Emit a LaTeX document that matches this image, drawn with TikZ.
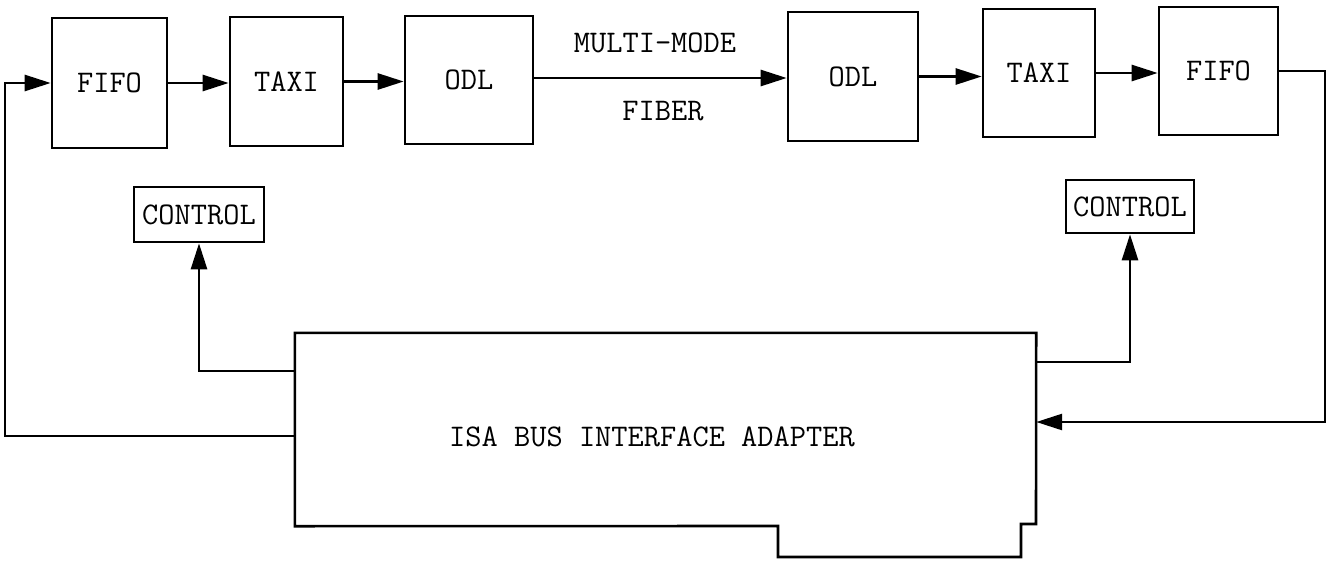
\documentclass[tikz,border=0pt]{standalone}
\usetikzlibrary{arrows.meta}
\begin{document}
\begin{tikzpicture}[x=1pt,y=-1pt,
  lw/.style={line width=2.6pt},
  blk/.style={draw, lw, inner sep=0pt, font=\fontsize{31.5}{36}\selectfont\ttfamily},
  lbl/.style={inner sep=0pt, font=\fontsize{31.5}{36}\selectfont\ttfamily},
  arr/.style={lw, -{Triangle[length=26pt,width=16pt]}}]
\useasboundingbox (0,0) rectangle (1338,565);
\node[blk, minimum width=115pt, minimum height=130pt] (fifo1) at (109.5,83) {FIFO};
\node[blk, minimum width=113pt, minimum height=129pt] (taxi1) at (286.5,81.5) {TAXI};
\node[blk, minimum width=128pt, minimum height=128pt] (odl1) at (469,80) {ODL};
\node[blk, minimum width=130pt, minimum height=129pt] (odl2) at (853,76.5) {ODL};
\node[blk, minimum width=112pt, minimum height=128pt] (taxi2) at (1039,73) {TAXI};
\node[blk, minimum width=119pt, minimum height=128pt] (fifo2) at (1218.5,71) {FIFO};
\node[blk, minimum width=130pt, minimum height=55pt] (ctl1) at (199,214.5) {CONTROL};
\node[blk, minimum width=128pt, minimum height=53pt] (ctl2) at (1130,206.5) {CONTROL};
\node[lbl] (mm) at (655,43) {MULTI-MODE};
\node[lbl] (fb) at (663,111) {FIBER};
% ISA adapter
\node[inner sep=0pt, minimum width=741pt, minimum height=193pt] (isa) at (665.5,429.5) {};
\node[lbl] (isalbl) at (652,437) {ISA BUS INTERFACE ADAPTER};
\draw[lw] (isa.north west) -- (isa.north east) -- (1036,524) -- (1021,524) -- (1021,557)
  -- (778,557) -- (778,526) -- (isa.south west) -- cycle;
% top chain
\draw[arr] (fifo1.east) -- (fifo1.east -| taxi1.west);
\draw[arr] (taxi1.east) -- (taxi1.east -| odl1.west);
\draw[arr] (odl1.east |- 0,78) -- (odl2.west |- 0,78);
\draw[arr] (odl2.east) -- (odl2.east -| taxi2.west);
\draw[arr] (taxi2.east) -- (taxi2.east -| fifo2.west);
% loops
\coordinate (ll) at (5,436);
\draw[arr] (isa.west |- ll) -- (ll) |- (fifo1.west);
\coordinate (c1) at (200,371);
\draw[arr] (isa.west |- c1) -| (ctl1.south);
\coordinate (c2) at (1130,362);
\draw[arr] (isa.east |- c2) -| (ctl2.south);
\coordinate (rr) at (1325,422);
\draw[arr] (fifo2.east) -| (rr) -- (isa.east |- rr);
\end{tikzpicture}
\end{document}
